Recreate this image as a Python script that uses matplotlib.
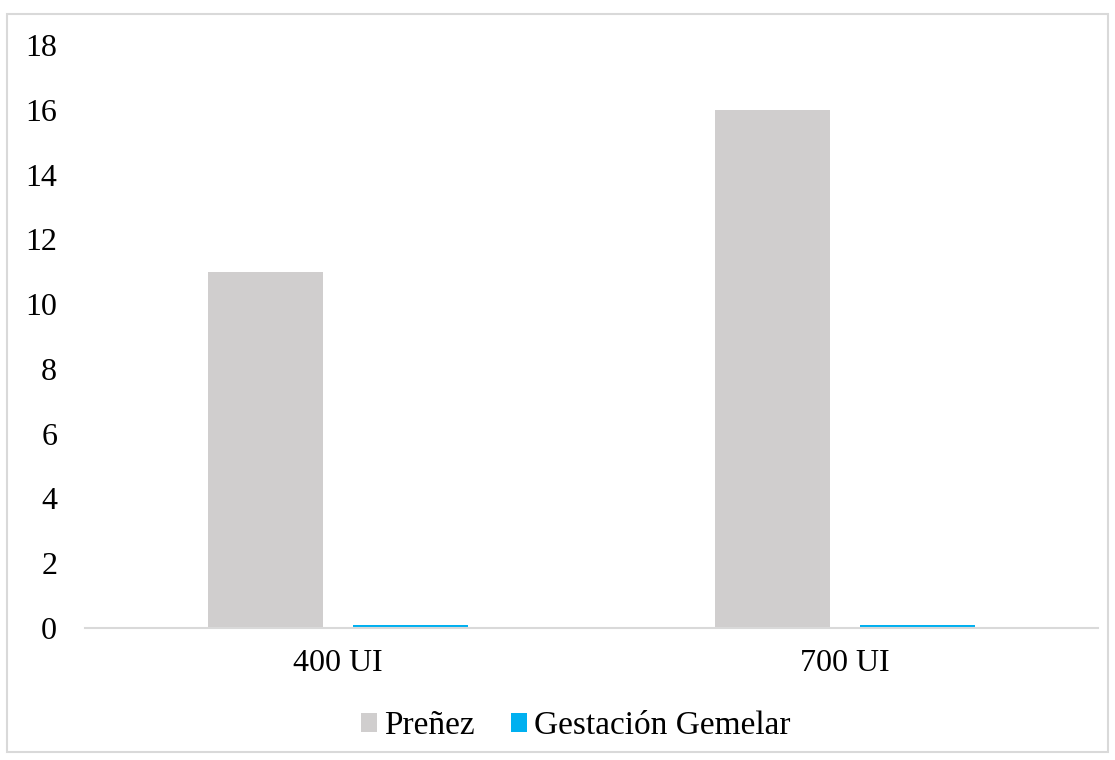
import matplotlib
matplotlib.use("Agg")
import matplotlib.pyplot as plt
import numpy as np
from matplotlib.patches import Rectangle

categories = ["400 UI", "700 UI"]
series_names = ["Preñez", "Gestación Gemelar"]
prenez = [11, 16]
gemelar = [0.1, 0.1]
yticks = [0, 2, 4, 6, 8, 10, 12, 14, 16, 18]

colors = ["#D0CECE", "#00B0F0"]

plt.rcParams['font.family'] = ['Liberation Serif', 'DejaVu Serif']

fig = plt.figure(figsize=(11.15, 7.6), dpi=100)
ax = fig.add_axes([85/1115, 1 - 628/760, (1098-85)/1115, (628-45)/760])

x = np.arange(len(categories))
w = 0.227
off = 0.143
ax.bar(x - off, prenez, width=w, color=colors[0], label=series_names[0])
ax.bar(x + off, gemelar, width=w, color=colors[1], label=series_names[1])

ax.set_xlim(-0.5, 1.5)
ax.set_ylim(0, 18)
ax.set_yticks(yticks)
ax.set_xticks(x)
ax.set_xticklabels(categories)
ax.tick_params(axis='both', length=0, labelsize=23, colors='black')
ax.tick_params(axis='y', pad=20)
ax.tick_params(axis='x', pad=15)
for s in ['top', 'right', 'left']:
    ax.spines[s].set_visible(False)
ax.spines['bottom'].set_color('#D9D9D9')
ax.spines['bottom'].set_linewidth(1.5)

leg = fig.legend(loc='center', bbox_to_anchor=(576/1115, 1 - 726/760), ncol=2, frameon=False,
                 fontsize=24, handlelength=0.48, handleheight=0.48, handletextpad=0.21,
                 columnspacing=1.1)

fig.patches.append(Rectangle((7/1115, 8/760), 1 - 14/1115, 1 - 22/760, transform=fig.transFigure,
                             fill=False, edgecolor='#D9D9D9', linewidth=1.5))

fig.savefig("out.png", dpi=100)
